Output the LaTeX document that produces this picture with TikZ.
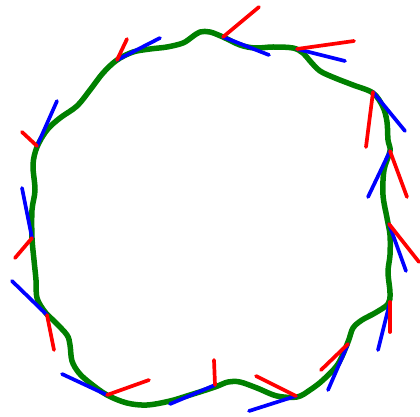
\documentclass[tikz,border=0pt]{standalone}
\begin{document}
\begin{tikzpicture}[x=1pt,y=-1pt,
  curve/.style={draw={rgb,255:red,0;green,128;blue,0},line width=5.5pt,line cap=round,line join=round},
  redseg/.style={draw=red,line width=3.7pt,line cap=round},
  blueseg/.style={draw=blue,line width=3.7pt,line cap=round}]
\useasboundingbox (0,0) rectangle (420,417);
\draw[curve] plot[smooth cycle,tension=0.55] coordinates {
(200,32) (210,32) (223,37) (240,45) (255,48) (273,47) (293,48) (303,53) (310,61) (320,71) (335,78) (353,85) (373,93) (383,107) (387,122) (388,140) (390,151) (384,170) (383,195) (387,218) (390,235) (390,255) (388,272) (390,293) (388,304) (375,313) (362,320) (353,328) (348,342) (338,364) (323,380) (310,390) (297,397) (277,396) (257,388) (240,382) (228,382) (215,387) (190,395) (170,401) (147,405) (127,403) (107,395) (90,383) (79,373) (72,361) (70,345) (67,335) (55,322) (45,312) (37,298) (36,280) (34,260) (32,238) (32,210) (35,190) (33,165) (37,147) (47,130) (60,118) (77,106) (90,90) (103,73) (117,60) (133,52) (150,49) (167,47) (183,43) (192,37)};
% vertices
\coordinate (v1) at (117,60);  \coordinate (r1) at (127,39);  \coordinate (b1) at (160,38);
\coordinate (v2) at (37,146);  \coordinate (r2) at (22,132);  \coordinate (b2) at (57,101);
\coordinate (v3) at (32,238);  \coordinate (r3) at (15,258);  \coordinate (b3) at (22,188);
\coordinate (v4) at (47,315);  \coordinate (r4) at (54,350);  \coordinate (b4) at (12,281);
\coordinate (v5) at (107,395); \coordinate (r5) at (149,380); \coordinate (b5) at (62,374);
\coordinate (v6) at (215,385); \coordinate (r6) at (214,360); \coordinate (b6) at (170,404);
\coordinate (v7) at (296,396); \coordinate (r7) at (256,376); \coordinate (b7) at (249,411);
\coordinate (v8) at (348,344); \coordinate (r8) at (321,370); \coordinate (b8) at (328,390);
\coordinate (v9) at (390,302); \coordinate (r9) at (390,332); \coordinate (b9) at (378,350);
\coordinate (v10) at (389,224); \coordinate (r10) at (419,262); \coordinate (b10) at (406,271);
\coordinate (v11) at (390,151); \coordinate (r11) at (407,197); \coordinate (b11) at (368,197);
\coordinate (v12) at (373,92);  \coordinate (r12) at (366,147); \coordinate (b12) at (405,131);
\coordinate (v13) at (297,49);  \coordinate (r13) at (354,41);  \coordinate (b13) at (345,61);
\coordinate (v14) at (223,37);  \coordinate (r14) at (259,7);   \coordinate (b14) at (269,55);
\foreach \i in {1,...,14} {\draw[blueseg] (v\i) -- (b\i);}
\foreach \i in {1,...,14} {\draw[redseg] (v\i) -- (r\i);}
\end{tikzpicture}
\end{document}
